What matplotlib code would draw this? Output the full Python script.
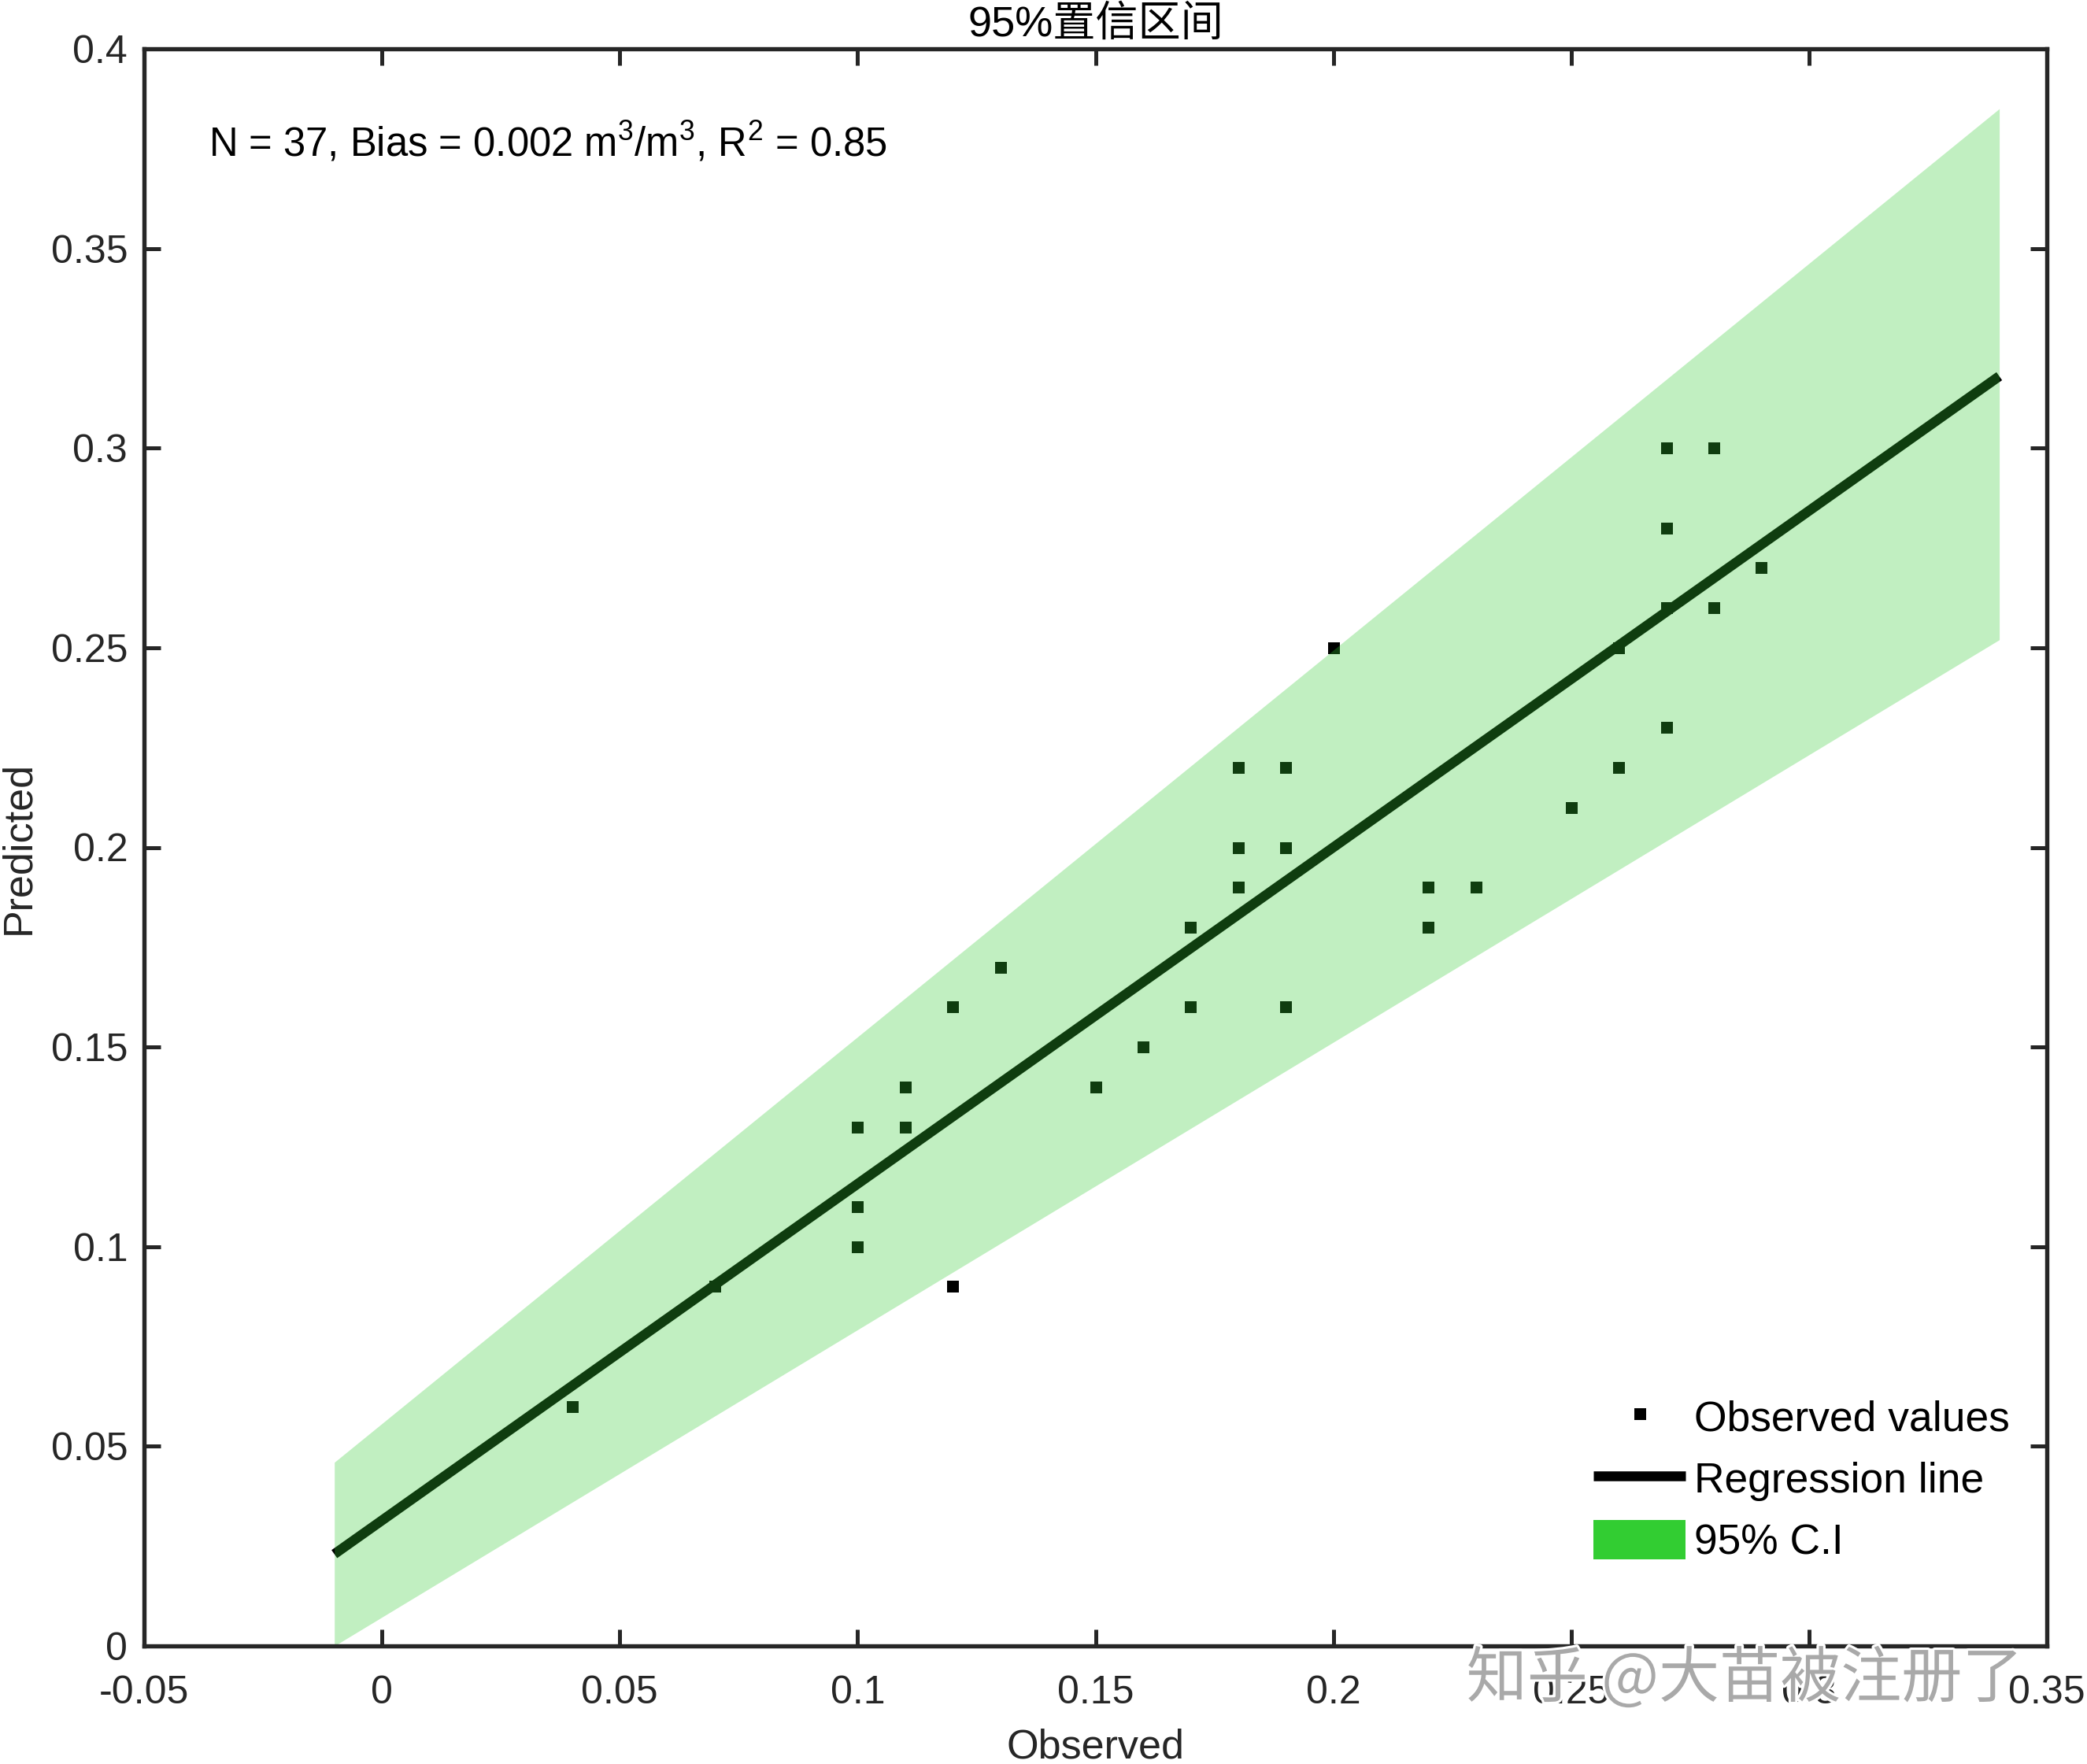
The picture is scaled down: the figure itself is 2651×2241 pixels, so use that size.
import matplotlib
matplotlib.use("Agg")
import matplotlib.pyplot as plt
from matplotlib.lines import Line2D
from matplotlib.patches import Patch
import matplotlib.patheffects as pe
import numpy as np

# ---- data ----
obs_x = [0.04, 0.07, 0.10, 0.10, 0.10, 0.11, 0.11, 0.12, 0.12, 0.13,
         0.15, 0.16, 0.17, 0.17, 0.18, 0.18, 0.18, 0.19, 0.19, 0.19,
         0.20, 0.22, 0.22, 0.23, 0.25, 0.26, 0.26, 0.27, 0.27, 0.27,
         0.27, 0.28, 0.28, 0.29]
obs_y = [0.06, 0.09, 0.13, 0.11, 0.10, 0.14, 0.13, 0.16, 0.09, 0.17,
         0.14, 0.15, 0.18, 0.16, 0.22, 0.20, 0.19, 0.22, 0.20, 0.16,
         0.25, 0.19, 0.18, 0.19, 0.21, 0.25, 0.22, 0.30, 0.28, 0.26,
         0.23, 0.30, 0.26, 0.27]

reg_x = [-0.01, 0.34]
reg_y = [0.023, 0.318]

band_x = [-0.01, 0.34]
band_upper = [0.046, 0.385]
band_lower = [0.0, 0.252]

x_ticks = [-0.05, 0, 0.05, 0.1, 0.15, 0.2, 0.25, 0.3, 0.35]
y_ticks = [0, 0.05, 0.1, 0.15, 0.2, 0.25, 0.3, 0.35, 0.4]

title_text = "95%置信区间"
stats_text = r"N = 37, Bias = 0.002 m$^3$/m$^3$, R$^2$ = 0.85"
legend_labels = ["Observed values", "Regression line", "95% C.I"]
watermark = "知乎 @大苗被注册了"

# ---- style ----
plt.rcParams['font.family'] = ['Liberation Sans', 'Noto Sans CJK SC', 'DejaVu Sans']
plt.rcParams['mathtext.fontset'] = 'custom'
plt.rcParams['mathtext.rm'] = 'Liberation Sans'
plt.rcParams['mathtext.it'] = 'Liberation Sans:italic'
plt.rcParams['mathtext.bf'] = 'Liberation Sans:bold'

W, H = 2651, 2241
DPI = 300
fig = plt.figure(figsize=(W / DPI, H / DPI), dpi=DPI)
ax_left, ax_right, ax_top, ax_bottom = 183, 2600, 62, 2091
ax = fig.add_axes([ax_left / W, 1 - ax_bottom / H,
                   (ax_right - ax_left) / W, (ax_bottom - ax_top) / H])

spine_col = '#262626'
fill_col = '#32CD32'

ax.plot(obs_x, obs_y, linestyle='none', marker='s', markersize=3.6,
        color='black', markeredgewidth=0, zorder=2)
ax.plot(reg_x, reg_y, color='black', linewidth=3.0, solid_capstyle='butt', zorder=2)
ax.fill_between(band_x, band_lower, band_upper, color=fill_col, alpha=0.3,
                linewidth=0, zorder=3)

ax.set_xlim(-0.05, 0.35)
ax.set_ylim(0, 0.4)
ax.set_xticks(x_ticks)
ax.set_yticks(y_ticks)
ax.set_xticklabels(["%g" % v for v in x_ticks])
ax.set_yticklabels(["%g" % v for v in y_ticks])
ax.tick_params(direction='in', length=5, width=1.2, colors=spine_col,
               labelsize=12, top=True, right=True)
ax.tick_params(axis='x', pad=9)
ax.tick_params(axis='y', pad=5)
for lab in ax.get_xticklabels() + ax.get_yticklabels():
    lab.set_color('#262626')
for s in ax.spines.values():
    s.set_linewidth(1.3)
    s.set_color(spine_col)
    s.set_zorder(5)

ax.set_xlabel("Observed", fontsize=12.5, color='#262626', labelpad=5)
ax.set_ylabel("Predicted", fontsize=12.5, color='#262626', labelpad=4)
ax.set_title(title_text, fontsize=13, color='black', pad=4)

ax.text(-0.0365, 0.3765, stats_text, fontsize=12.2, color='black',
        ha='left', va='center')

handles = [
    Line2D([], [], linestyle='none', marker='s', markersize=3.6, color='black',
           markeredgewidth=0),
    Line2D([], [], color='black', linewidth=3.0, solid_capstyle='butt'),
    Patch(facecolor=fill_col, edgecolor='none'),
]
ax.legend(handles, legend_labels, loc='lower left',
          bbox_to_anchor=(0.7617, 0.052), frameon=False, fontsize=12.8,
          borderpad=0, borderaxespad=0, handlelength=2.2, handleheight=1.07,
          handletextpad=0.2, labelspacing=0.45)

fig.text(0.836, 0.0477, watermark, fontsize=18.5, color='#a9a9a9',
         family=['Noto Sans CJK SC', 'DejaVu Sans'], ha='center', va='center',
         zorder=10,
         path_effects=[pe.withStroke(linewidth=1.5, foreground='white')])

fig.savefig("out.png", dpi=DPI)
